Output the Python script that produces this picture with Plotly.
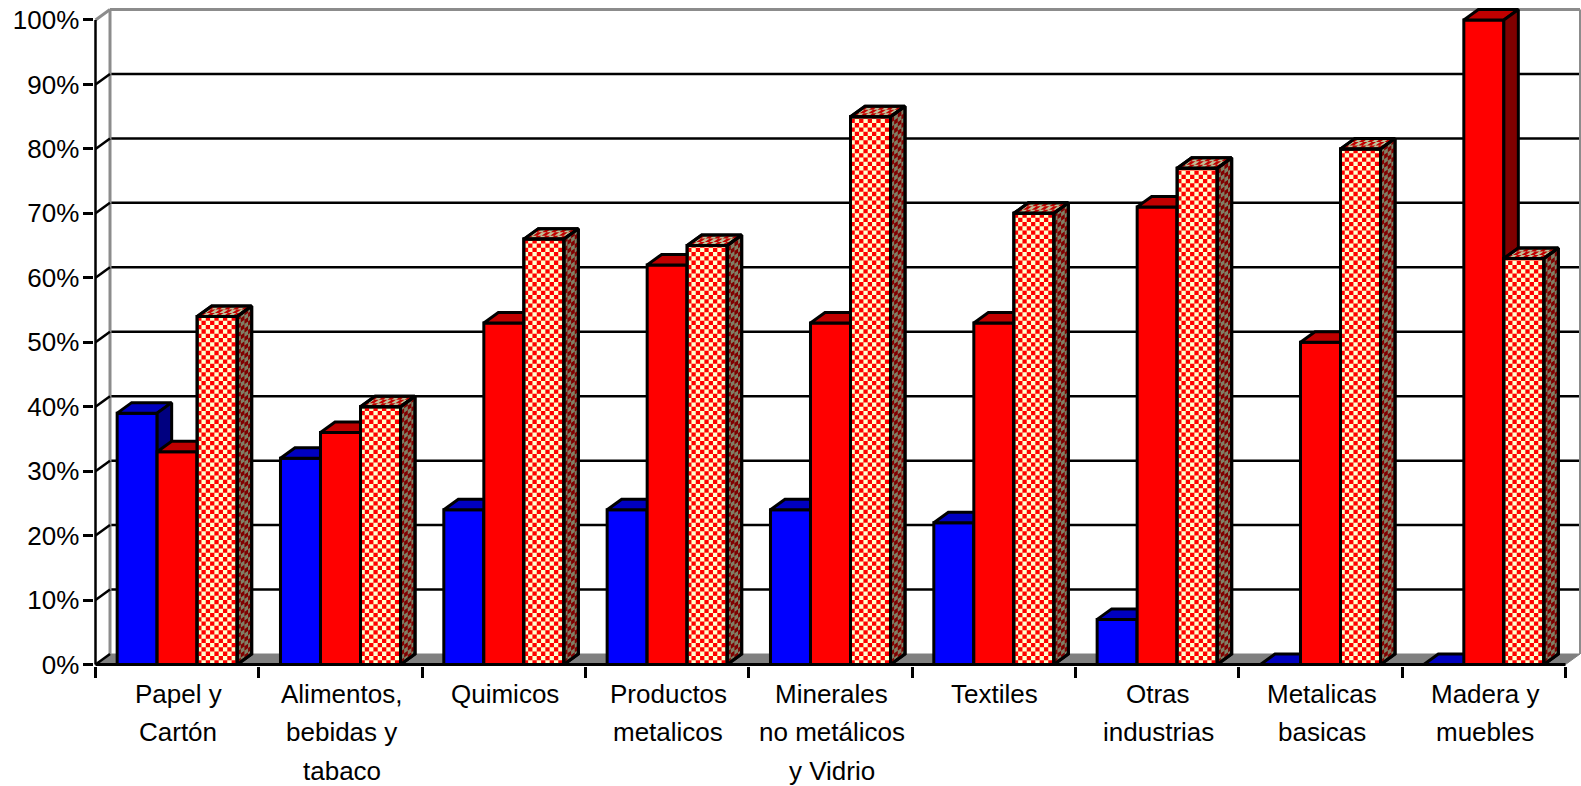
import plotly.graph_objects as go

categories = [
    "Papel y<br>Cartón", "Alimentos,<br>bebidas y<br>tabaco", "Quimicos",
    "Productos<br>metalicos", "Minerales<br>no metálicos<br>y Vidrio", "Textiles",
    "Otras<br>industrias", "Metalicas<br>basicas", "Madera y<br>muebles",
]
serie_azul = [39, 32, 24, 24, 24, 22, 7, 0, 0]
serie_roja = [33, 36, 53, 62, 53, 53, 71, 50, 100]
serie_cuadros = [54, 40, 66, 65, 85, 70, 77, 80, 63]
y_ticks = list(range(0, 101, 10))
y_tick_labels = [f"{v}%" for v in y_ticks]

# Pixel scale of the axes (front plane) and the oblique depth of the 3D look
FRONT_L, BACK_R, BACK_T, FRONT_B = 95.5, 1580.0, 9.5, 665.0
PAD_L, PAD_R, PAD_T, PAD_B = 1.5, 1.0, 2.5, 1.5   # room so edge lines are not clipped
PX_X = (1565.0 - FRONT_L) / 9.0   # px per category
PX_Y = 6.45                       # px per percentage point
DX = 14.5 / PX_X
DY = 10.5 / PX_Y
BAR_W = 40.0 / PX_X
X_RANGE = [-PAD_L / PX_X, 9 + DX + PAD_R / PX_X]
Y_RANGE = [-PAD_B / PX_Y, 100 + DY + PAD_T / PX_Y]
CELL = 4.3
FONT = "Liberation Sans, Arial, sans-serif"
BLACK = "#000000"
GRAY = "#808080"
WALL = "#8c8c8c"
OUT_W = 3
GRID_W = 2.5


def poly_trace(xs, ys, fill, xa, ya, line=BLACK, width=OUT_W):
    return go.Scatter(
        x=xs, y=ys, mode="lines", fill="toself", fillcolor=fill,
        line=dict(color=line, width=width), xaxis=xa, yaxis=ya,
        hoverinfo="skip", showlegend=False, cliponaxis=False,
    )


def line_trace(xs, ys, color, width, xa="x", ya="y"):
    return go.Scatter(
        x=xs, y=ys, mode="lines", line=dict(color=color, width=width),
        xaxis=xa, yaxis=ya, hoverinfo="skip", showlegend=False, cliponaxis=False,
    )


def faces(left, value):
    """Top and side parallelograms of a bar, from its value."""
    right = left + BAR_W
    top_x = [left, right, right + DX, left + DX, left]
    top_y = [value, value, value + DY, value + DY, value]
    side_x = [right, right + DX, right + DX, right, right]
    side_y = [0, DY, value + DY, value, 0]
    return (top_x, top_y), (side_x, side_y)


def checks(left, value):
    """Checker cells for the front, top and side faces of a bar."""
    right = left + BAR_W
    cw, ch = CELL / PX_X, CELL / PX_Y
    front_x, front_y, side_x, side_y, top_x, top_y = [], [], [], [], [], []
    n_cols = int(BAR_W / cw) + 1
    n_rows = int(value / ch) + 1
    for r in range(n_rows):
        y0, y1 = r * ch, min((r + 1) * ch, value)
        if y0 >= y1:
            continue
        for c in range(n_cols):
            x0, x1 = left + c * cw, min(left + (c + 1) * cw, right)
            if x0 < x1 and (r + c) % 2 == 0:
                front_x += [x0, x1, x1, x0, x0, None]
                front_y += [y0, y0, y1, y1, y0, None]
        n_depth = 4
        for d in range(n_depth):
            if (r + d) % 2 == 0:
                u0, u1 = d / n_depth, (d + 1) / n_depth
                side_x += [right + u0 * DX, right + u1 * DX, right + u1 * DX, right + u0 * DX, right + u0 * DX, None]
                side_y += [y0 + u0 * DY, y0 + u1 * DY, y1 + u1 * DY, y1 + u0 * DY, y0 + u0 * DY, None]
    for d in range(3):
        u0, u1 = d / 3, (d + 1) / 3
        for c in range(n_cols):
            if (d + c) % 2 == 0:
                x0, x1 = left + c * cw, min(left + (c + 1) * cw, right)
                if x0 < x1:
                    top_x += [x0 + u0 * DX, x1 + u0 * DX, x1 + u1 * DX, x0 + u1 * DX, x0 + u0 * DX, None]
                    top_y += [value + u0 * DY, value + u0 * DY, value + u1 * DY, value + u1 * DY, value + u0 * DY, None]
    return (front_x, front_y), (top_x, top_y), (side_x, side_y)


traces = []

# --- walls, floor and gridlines on the base axes
traces.append(poly_trace([0, DX, 9 + DX, 9, 0], [0, DY, DY, 0, 0], GRAY, "x", "y", line=GRAY, width=1))
for v in y_ticks[1:-1]:
    traces.append(line_trace([DX, 9 + DX], [v + DY, v + DY], BLACK, GRID_W))
traces.append(line_trace([DX, DX], [DY, 100 + DY], WALL, 3))
traces.append(line_trace([DX, 9 + DX], [100 + DY, 100 + DY], WALL, 3))
traces.append(line_trace([9 + DX, 9 + DX], [DY, 100 + DY], WALL, 2))
for v in y_ticks[:-1]:
    traces.append(line_trace([0, DX], [v, v + DY], BLACK, GRID_W))
traces.append(line_trace([0, DX], [100, 100 + DY], WALL, 3))
traces.append(line_trace([0, 0], [0, 100], BLACK, GRID_W))
traces.append(line_trace([0, 9], [0, 0], BLACK, OUT_W))

# --- one overlaid axis pair per series, so later bars hide earlier side faces
series = [
    (serie_azul, "#0000FF", "#0000C0", "#000080", "x2", "y2", -1.5),
    (serie_roja, "#FF0000", "#C00000", "#800000", "x3", "y3", -0.5),
    (serie_cuadros, "#FFFFCC", "#C0C099", "#808066", "x4", "y4", 0.5),
]
for idx, (vals, front, top, side, xa, ya, off) in enumerate(series):
    centers = [i + 0.5 for i in range(len(vals))]
    traces.append(go.Bar(
        x=centers, y=vals, width=BAR_W, offset=off * BAR_W,
        marker=dict(color=front, line=dict(color=BLACK, width=OUT_W)),
        xaxis=xa, yaxis=ya, hoverinfo="skip", showlegend=False, cliponaxis=False,
    ))
    for c, v in zip(centers, vals):
        left = c + off * BAR_W
        (tx, ty), (sx, sy) = faces(left, v)
        traces.append(poly_trace(tx, ty, top, xa, ya))
        if v > 0:
            traces.append(poly_trace(sx, sy, side, xa, ya))
        if idx == 2:
            (fcx, fcy), (tcx, tcy), (scx, scy) = checks(left, v)
            for px, py, col in [(tcx, tcy, "#C00000"), (scx, scy, "#800000"), (fcx, fcy, "#FF0000")]:
                traces.append(go.Scatter(
                    x=px, y=py, mode="lines", fill="toself", fillcolor=col,
                    line=dict(width=0, color=col), xaxis=xa, yaxis=ya,
                    hoverinfo="skip", showlegend=False,
                ))
            # outlines back on top of the checker cells
            r = left + BAR_W
            traces.append(line_trace([left, r, r, left, left], [0, 0, v, v, 0], BLACK, OUT_W, xa, ya))
            traces.append(line_trace(tx, ty, BLACK, OUT_W, xa, ya))
            traces.append(line_trace(sx, sy, BLACK, OUT_W, xa, ya))

fig = go.Figure(traces)

annotations = []
for i, cat in enumerate(categories):
    for k, part in enumerate(cat.split("<br>")):
        annotations.append(dict(
            x=i + 0.5, y=0, xref="x", yref="y", text=part, showarrow=False,
            yshift=-(29 + 38.5 * k), xshift=1, yanchor="middle", xanchor="center",
            font=dict(family=FONT, size=26, color=BLACK),
        ))

hidden_x = dict(range=X_RANGE, visible=False, fixedrange=True)
hidden_y = dict(range=Y_RANGE, visible=False, fixedrange=True)
fig.update_layout(
    width=1581, height=786, autosize=False,
    margin=dict(l=FRONT_L - PAD_L, r=1581 - BACK_R - PAD_R, t=BACK_T - PAD_T,
                b=786 - FRONT_B - PAD_B, pad=0),
    paper_bgcolor="white", plot_bgcolor="white", barmode="overlay", showlegend=False,
    font=dict(family=FONT, size=26, color=BLACK),
    annotations=annotations,
    xaxis=dict(range=X_RANGE, tickmode="array", tickvals=list(range(10)), ticktext=[""] * 10,
               ticks="outside", ticklen=10.5, tickwidth=GRID_W, tickcolor=BLACK,
               showgrid=False, zeroline=False, showline=False, fixedrange=True),
    yaxis=dict(range=Y_RANGE, tickmode="array", tickvals=y_ticks, ticktext=y_tick_labels,
               ticks="outside", ticklen=10.5, tickwidth=GRID_W, tickcolor=BLACK,
               ticklabelstandoff=-2,
               showgrid=False, zeroline=False, showline=False, fixedrange=True,
               tickfont=dict(family=FONT, size=26, color=BLACK)),
    xaxis2=dict(overlaying="x", anchor="y2", **hidden_x),
    yaxis2=dict(overlaying="y", anchor="x2", **hidden_y),
    xaxis3=dict(overlaying="x", anchor="y3", **hidden_x),
    yaxis3=dict(overlaying="y", anchor="x3", **hidden_y),
    xaxis4=dict(overlaying="x", anchor="y4", **hidden_x),
    yaxis4=dict(overlaying="y", anchor="x4", **hidden_y),
)

fig.write_html(
    "out.html",
    config={"displayModeBar": False},
    post_script="document.body.style.margin='0';document.body.style.overflow='hidden';",
)
